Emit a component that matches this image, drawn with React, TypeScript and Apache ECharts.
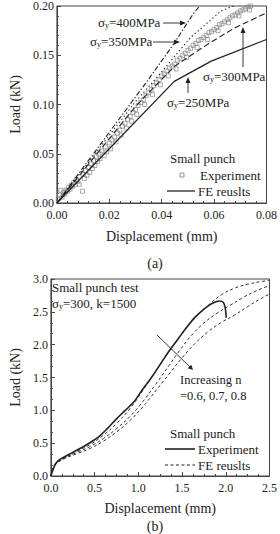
import React, { useEffect, useRef } from "react";
import * as echarts from "echarts";

// ---------- Data (a): load vs displacement, sigma_y study ----------
const expA: number[][] = [
  [0.0005, 0.004], [0.001, 0.008], [0.0015, 0.013], [0.002, 0.006], [0.0025, 0.011], [0.003, 0.009],
  [0.0035, 0.013], [0.004, 0.012], [0.0045, 0.016], [0.005, 0.014], [0.0055, 0.018], [0.006, 0.017],
  [0.0065, 0.021], [0.007, 0.019], [0.0075, 0.024], [0.008, 0.022], [0.0085, 0.019], [0.0098, 0.012],
  [0.010, 0.029], [0.0105, 0.025], [0.011, 0.033], [0.0115, 0.028], [0.012, 0.036], [0.0125, 0.031],
  [0.013, 0.040], [0.0135, 0.035], [0.014, 0.043], [0.0145, 0.038], [0.015, 0.047], [0.0155, 0.042],
  [0.016, 0.050], [0.0165, 0.045], [0.017, 0.053], [0.018, 0.048], [0.0185, 0.057], [0.019, 0.052],
  [0.020, 0.061], [0.0205, 0.055], [0.021, 0.064], [0.022, 0.067], [0.0225, 0.062], [0.023, 0.071],
  [0.024, 0.074], [0.0245, 0.069], [0.025, 0.078], [0.026, 0.081], [0.0265, 0.076], [0.027, 0.085],
  [0.028, 0.088], [0.0285, 0.083], [0.029, 0.092], [0.030, 0.095], [0.0305, 0.090], [0.031, 0.099],
  [0.032, 0.102], [0.033, 0.105], [0.0335, 0.100], [0.034, 0.109], [0.035, 0.112], [0.036, 0.115],
  [0.0365, 0.110], [0.037, 0.119], [0.038, 0.122], [0.039, 0.125], [0.0395, 0.120], [0.040, 0.129],
  [0.041, 0.131], [0.042, 0.134], [0.0425, 0.129], [0.043, 0.137], [0.044, 0.139], [0.045, 0.141],
  [0.0455, 0.136], [0.046, 0.145], [0.047, 0.147], [0.048, 0.150], [0.049, 0.152], [0.0495, 0.148],
  [0.050, 0.155], [0.051, 0.157], [0.052, 0.160], [0.053, 0.162], [0.0535, 0.158], [0.054, 0.165],
  [0.055, 0.166], [0.056, 0.168], [0.057, 0.170], [0.0575, 0.166], [0.058, 0.173], [0.059, 0.174],
  [0.060, 0.176], [0.061, 0.178], [0.0615, 0.175], [0.062, 0.181], [0.063, 0.182], [0.064, 0.184],
  [0.065, 0.186], [0.0655, 0.183], [0.066, 0.188], [0.067, 0.190], [0.068, 0.191], [0.069, 0.193],
  [0.0695, 0.190], [0.070, 0.195], [0.071, 0.196], [0.072, 0.197], [0.073, 0.199], [0.0735, 0.196],
  [0.074, 0.200],
];
const fe250: number[][] = [[0, 0], [0.0448, 0.1235], [0.0589, 0.144], [0.08, 0.166]];
const fe300: number[][] = [[0, 0], [0.03, 0.098], [0.035, 0.112], [0.045, 0.139], [0.058, 0.162], [0.068, 0.178], [0.08, 0.193]];
const fe350: number[][] = [[0, 0], [0.03, 0.103], [0.038, 0.127], [0.051, 0.168], [0.0627, 0.195], [0.0675, 0.2]];
const fe400: number[][] = [[0, 0], [0.034, 0.122], [0.045, 0.163], [0.052, 0.192], [0.0545, 0.2]];

// ---------- Data (b): hardening exponent study ----------
const expB: number[][] = [
  [0, 0], [0.03, 0.12], [0.06, 0.2], [0.1, 0.25], [0.15, 0.29], [0.25, 0.36], [0.35, 0.43], [0.45, 0.51],
  [0.55, 0.6], [0.65, 0.73], [0.75, 0.87], [0.85, 1.0], [0.95, 1.13], [1.05, 1.32], [1.15, 1.5],
  [1.25, 1.7], [1.35, 1.9], [1.45, 2.08], [1.55, 2.26], [1.65, 2.42], [1.75, 2.54], [1.82, 2.61],
  [1.88, 2.65], [1.93, 2.665], [1.97, 2.645], [1.99, 2.58], [2.0, 2.5], [2.005, 2.41],
];
const feN06: number[][] = [
  [0, 0], [0.05, 0.19], [0.15, 0.28], [0.3, 0.38], [0.45, 0.48], [0.6, 0.62], [0.75, 0.8], [0.9, 1.02],
  [1.05, 1.3], [1.2, 1.6], [1.35, 1.9], [1.5, 2.17], [1.65, 2.41], [1.8, 2.6], [1.95, 2.76], [2.1, 2.86],
  [2.25, 2.92], [2.4, 2.96], [2.5, 2.98],
];
const feN07: number[][] = [
  [0, 0], [0.05, 0.18], [0.15, 0.27], [0.3, 0.36], [0.45, 0.45], [0.6, 0.57], [0.75, 0.72], [0.9, 0.9],
  [1.05, 1.13], [1.2, 1.4], [1.35, 1.68], [1.45, 1.87], [1.6, 2.13], [1.75, 2.33], [1.9, 2.48], [2.05, 2.6],
  [2.2, 2.72], [2.35, 2.82], [2.5, 2.9],
];
const feN08: number[][] = [
  [0, 0], [0.05, 0.17], [0.15, 0.26], [0.3, 0.34], [0.45, 0.42], [0.6, 0.53], [0.75, 0.67], [0.9, 0.84],
  [1.05, 1.05], [1.2, 1.3], [1.35, 1.55], [1.5, 1.8], [1.65, 2.02], [1.8, 2.2], [1.95, 2.34], [2.1, 2.45],
  [2.25, 2.58], [2.4, 2.7], [2.5, 2.77],
];

const FONT = "Liberation Serif";
const FONTCSS = '"Liberation Serif", "DejaVu Serif", serif';
const INK = "#222";
const AX = "#444";

function axisCommon(extra: any) {
  return {
    type: "value",
    axisLine: { show: true, lineStyle: { color: AX, width: 1 } },
    axisTick: { show: true, inside: true, length: 4, lineStyle: { color: AX } },
    minorTick: { show: true, length: 2, lineStyle: { color: AX } },
    splitLine: { show: false },
    axisLabel: { color: INK, fontFamily: FONT, fontSize: 12 },
    nameTextStyle: { color: INK, fontFamily: FONT, fontSize: 14 },
    ...extra,
  };
}

const sub = (txt: string) => `{a|σ}{b|y}{a|${txt}}`;

function richStyle(fs: number) {
  return {
    a: { fontFamily: FONT, fontSize: fs, fill: INK, lineHeight: fs + 2 },
    b: { fontFamily: FONT, fontSize: 8, fill: INK, lineHeight: 8, verticalAlign: "bottom", padding: [4, 0, 0, 0] },
  };
}

function label(x: number, y: number, text: string, fs = 13, rich = false) {
  return {
    type: "text",
    x,
    y,
    silent: true,
    style: rich
      ? { text, rich: richStyle(fs), fill: INK, verticalAlign: "middle", font: `${fs}px ${FONTCSS}` }
      : { text, fill: INK, font: `${fs}px ${FONTCSS}`, verticalAlign: "middle" },
  };
}

function seg(x1: number, y1: number, x2: number, y2: number, lw = 0.9, dash?: number[]) {
  return {
    type: "line", silent: true, shape: { x1, y1, x2, y2 },
    style: { stroke: INK, lineWidth: lw, lineDash: dash },
  };
}
function head(pts: number[][]) {
  return { type: "polygon", silent: true, shape: { points: pts }, style: { fill: INK } };
}

export default function App() {
  const ref = useRef<HTMLDivElement>(null);
  useEffect(() => {
    if (!ref.current) return;
    const chart = echarts.init(ref.current, undefined, { renderer: "svg" });
    const lineBase = { type: "line", showSymbol: false, symbol: "none", z: 3 };
    chart.setOption({
      animation: false,
      backgroundColor: "#fff",
      textStyle: { fontFamily: FONT },
      grid: [
        { left: 45, top: 6, width: 227, height: 197, show: true, borderColor: AX, borderWidth: 1 },
        { left: 45, top: 279, width: 227, height: 197, show: true, borderColor: AX, borderWidth: 1 },
      ],
      xAxis: [
        axisCommon({
          gridIndex: 0, min: 0, max: 0.08, interval: 0.02,
          name: "Displacement (mm)", nameLocation: "middle", nameGap: 26,
          minorTick: { show: true, splitNumber: 5, length: 2, lineStyle: { color: AX } },
          axisLabel: { color: INK, fontFamily: FONT, fontSize: 12, margin: 6, formatter: (v: number) => v.toFixed(2) },
        }),
        axisCommon({
          gridIndex: 1, min: 0, max: 2.5, interval: 0.5,
          name: "Displacement (mm)", nameLocation: "middle", nameGap: 25,
          minorTick: { show: true, splitNumber: 4, length: 2, lineStyle: { color: AX } },
          axisLabel: { color: INK, fontFamily: FONT, fontSize: 12, margin: 6, formatter: (v: number) => v.toFixed(1) },
        }),
      ],
      yAxis: [
        axisCommon({
          gridIndex: 0, min: 0, max: 0.2, interval: 0.05,
          name: "Load (kN)", nameLocation: "middle", nameGap: 27,
          minorTick: { show: true, splitNumber: 5, length: 2, lineStyle: { color: AX } },
          axisLabel: { color: INK, fontFamily: FONT, fontSize: 12, margin: 3, formatter: (v: number) => v.toFixed(2) },
        }),
        axisCommon({
          gridIndex: 1, min: 0, max: 3, interval: 0.5,
          name: "Load (kN)", nameLocation: "middle", nameGap: 21,
          minorTick: { show: true, splitNumber: 3, length: 2, lineStyle: { color: AX } },
          axisLabel: { color: INK, fontFamily: FONT, fontSize: 12, margin: 3, formatter: (v: number) => v.toFixed(1) },
        }),
      ],
      series: [
        {
          name: "Experiment", type: "scatter", xAxisIndex: 0, yAxisIndex: 0, data: expA,
          symbol: "rect", symbolSize: 4, z: 2,
          itemStyle: { color: "rgba(255,255,255,0)", borderColor: "#7a7a7a", borderWidth: 0.8 },
        },
        { ...lineBase, name: "FE σy=250MPa", xAxisIndex: 0, yAxisIndex: 0, data: fe250, lineStyle: { color: INK, width: 1.3, type: "solid" } },
        { ...lineBase, name: "FE σy=300MPa", xAxisIndex: 0, yAxisIndex: 0, data: fe300, lineStyle: { color: INK, width: 1.1, type: [6, 3] } },
        { ...lineBase, name: "FE σy=350MPa", xAxisIndex: 0, yAxisIndex: 0, data: fe350, lineStyle: { color: INK, width: 1.1, type: [1.3, 2.6] } },
        { ...lineBase, name: "FE σy=400MPa", xAxisIndex: 0, yAxisIndex: 0, data: fe400, lineStyle: { color: INK, width: 1.1, type: [5, 2, 1.3, 2] } },
        { ...lineBase, name: "Experiment (b)", xAxisIndex: 1, yAxisIndex: 1, data: expB, smooth: 0.35, z: 4, lineStyle: { color: INK, width: 1.6, type: "solid" } },
        { ...lineBase, name: "FE n=0.6", xAxisIndex: 1, yAxisIndex: 1, data: feN06, smooth: 0.4, lineStyle: { color: "#333", width: 1, type: [3, 2.5] } },
        { ...lineBase, name: "FE n=0.7", xAxisIndex: 1, yAxisIndex: 1, data: feN07, smooth: 0.4, lineStyle: { color: "#333", width: 1, type: [3, 2.5] } },
        { ...lineBase, name: "FE n=0.8", xAxisIndex: 1, yAxisIndex: 1, data: feN08, smooth: 0.4, lineStyle: { color: "#333", width: 1, type: [3, 2.5] } },
      ],
      graphic: [
        // (a) annotations
        label(98, 22, sub("=400MPa"), 13, true),
        seg(163, 23, 182, 23), head([[186, 23], [180, 20.5], [180, 25.5]]),
        label(90, 41, sub("=350MPa"), 13, true),
        seg(153, 42, 176, 42), head([[180, 42], [174, 39.5], [174, 44.5]]),
        label(203, 76, sub("=300MPa"), 13, true),
        seg(243, 67, 243, 31), head([[243, 27], [240.5, 33], [245.5, 33]]),
        label(167, 102, sub("=250MPa"), 13, true),
        seg(188, 93, 188, 81), head([[188, 77], [185.5, 83], [190.5, 83]]),
        // (a) legend
        label(170, 158, "Small punch", 13),
        { type: "rect", silent: true, shape: { x: 180, y: 173, width: 4, height: 4 }, style: { fill: "none", stroke: "#7a7a7a", lineWidth: 0.8 } },
        label(200, 175, "Experiment", 13),
        seg(167, 191, 195, 191, 1.3),
        label(198, 191, "FE reuslts", 13),
        { type: "text", x: 155, y: 263, silent: true, style: { text: "(a)", font: `14px ${FONTCSS}`, fill: INK, align: "center", verticalAlign: "middle" } },
        // (b) annotations
        label(52, 287, "Small punch test", 13),
        label(52, 303, sub("=300, k=1500"), 13, true),
        seg(157, 335, 190, 367), head([[193, 370], [187.7, 368.3], [191.3, 364.7]]),
        label(180, 380, "Increasing n", 12.5),
        label(180, 396, "=0.6, 0.7, 0.8", 12.5),
        // (b) legend
        label(170, 433, "Small punch", 13),
        seg(165, 449, 195, 449, 1.6),
        label(198, 449, "Experiment", 13),
        seg(165, 465, 195, 465, 1, [3, 2.5]),
        label(198, 465, "FE reuslts", 13),
        { type: "text", x: 155, y: 526, silent: true, style: { text: "(b)", font: `14px ${FONTCSS}`, fill: INK, align: "center", verticalAlign: "middle" } },
      ],
    });
    return () => chart.dispose();
  }, []);
  return (
    <div
      ref={ref}
      style={{ position: "absolute", left: 0, top: 0, width: 280, height: 534, background: "#fff" }}
    />
  );
}
